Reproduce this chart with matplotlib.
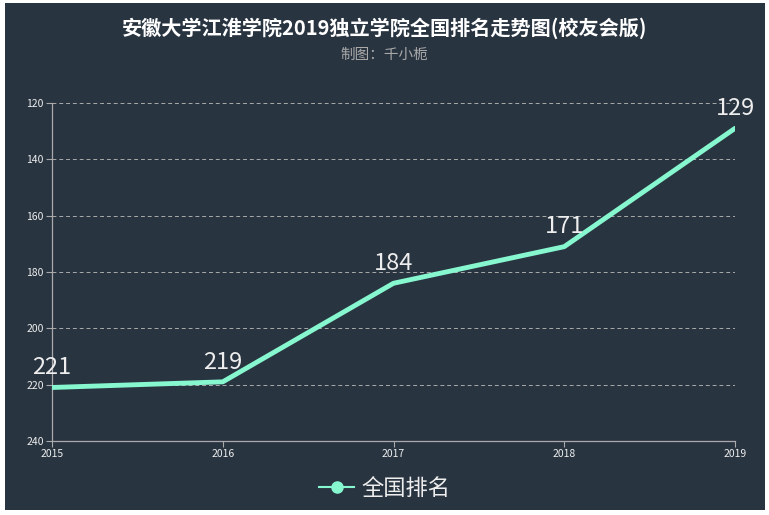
import matplotlib
matplotlib.use("Agg")
import matplotlib.pyplot as plt
from matplotlib.patches import Rectangle
from matplotlib.lines import Line2D

plt.rcParams['font.family'] = ['Noto Sans CJK SC', 'DejaVu Sans']

years = [2015, 2016, 2017, 2018, 2019]
ranks = [221, 219, 184, 171, 129]
y_ticks = [120, 140, 160, 180, 200, 220, 240]

title = "安徽大学江淮学院2019独立学院全国排名走势图(校友会版)"
subtitle = "制图：千小栀"
series_name = "全国排名"

BG = "#293441"
LINE = "#87f7cf"
AXIS = "#aaaaaa"

fig = plt.figure(figsize=(7.69, 5.15), dpi=100)
fig.patch.set_facecolor("white")
# dark panel with a thin white margin
fig.add_artist(Rectangle((5 / 769, 5 / 515), 760 / 769, 507 / 515,
                         transform=fig.transFigure, facecolor=BG,
                         edgecolor="none", zorder=0))

ax = fig.add_axes([52 / 769, 74 / 515, 683 / 769, 338 / 515])
ax.set_facecolor("none")
ax.plot(years, ranks, color=LINE, linewidth=3.5, solid_capstyle="round",
        solid_joinstyle="round", zorder=3)
for x, y in zip(years, ranks):
    ax.annotate(str(y), (x, y), xytext=(0, 6), textcoords="offset points",
                ha="center", va="bottom", color="#eeeeee", fontsize=17,
                zorder=4)

ax.set_xlim(years[0], years[-1])
ax.set_ylim(240, 120)
ax.set_xticks(years)
ax.set_yticks(y_ticks)
ax.tick_params(colors=AXIS, labelcolor="#eeeeee", labelsize=7.5, length=4,
               width=0.8, pad=2)
for t in y_ticks[:-1]:
    ax.axhline(t, color="#aaaaaa", linestyle=(0, (4, 3)), linewidth=0.7,
               zorder=1)
for side in ("top", "right"):
    ax.spines[side].set_visible(False)
for side in ("left", "bottom"):
    ax.spines[side].set_color(AXIS)
    ax.spines[side].set_linewidth(0.9)

fig.text(0.5, 1 - 28 / 515, title, ha="center", va="center", color="white",
         fontsize=14.5, fontweight="bold")
fig.text(0.5, 1 - 55 / 515, subtitle, ha="center", va="center",
         color="#aaaaaa", fontsize=10.5)

handle = Line2D([], [], color=LINE, marker="o", markersize=8, linewidth=1.5)
leg = fig.legend([handle], [series_name], loc="center",
                 bbox_to_anchor=(0.5, 1 - 488 / 515), frameon=False,
                 fontsize=16, handlelength=1.6, handletextpad=0.3)
for txt in leg.get_texts():
    txt.set_color("#eeeeee")

fig.savefig("out.png", dpi=100)
